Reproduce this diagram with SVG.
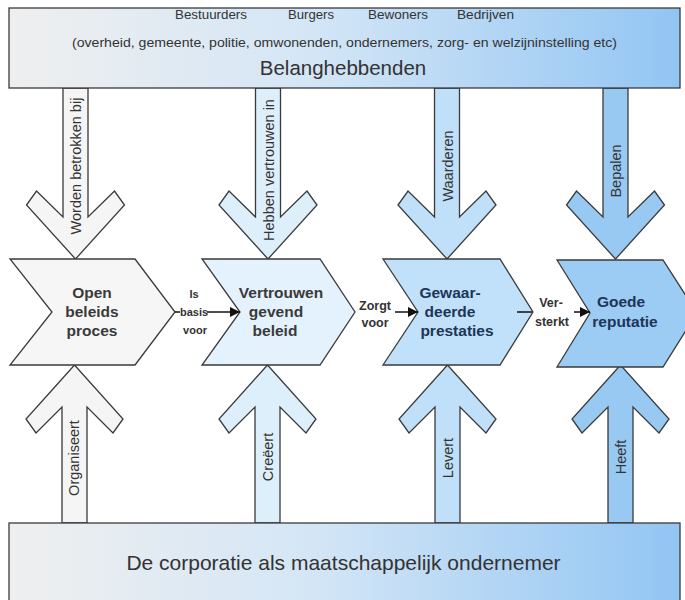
<svg xmlns="http://www.w3.org/2000/svg" width="685" height="600" viewBox="0 0 685 600">
<defs>
<linearGradient id="boxg" x1="0" y1="0" x2="1" y2="0">
<stop offset="0" stop-color="#efefef"/>
<stop offset="0.45" stop-color="#d4e6f6"/>
<stop offset="1" stop-color="#92c5f3"/>
</linearGradient>
<marker id="ah" viewBox="0 0 10 10" refX="10" refY="5" markerWidth="10" markerHeight="10" markerUnits="userSpaceOnUse" orient="auto">
<path d="M0,0 L10,5 L0,10 z" fill="#111"/>
</marker>
</defs>
<style>
.sh{stroke:#3a3a3a;stroke-width:1.3;stroke-linejoin:miter}
.c1{fill:#f6f6f6}.c2{fill:#e4f2fd}.c3{fill:#c0e1f9}.c4{fill:#9ccbf4}
.a1{fill:#f5f5f5}.a2{fill:#deeffc}.a3{fill:#bfe0f8}.a4{fill:#98c9f3}
.t{font-family:"Liberation Sans",Arial,sans-serif;fill:#333}
.vl{font-family:"Liberation Sans",Arial,sans-serif;fill:#333;font-size:14.5px;text-anchor:middle}
.ct{font-family:"Liberation Sans",Arial,sans-serif;font-weight:bold;font-size:15.5px;text-anchor:middle}
.lt{font-family:"Liberation Sans",Arial,sans-serif;font-weight:bold;font-size:12.5px;text-anchor:middle;fill:#333}
.ls{font-size:11px}
.cn{stroke:#111;stroke-width:1.5;fill:none}
</style>

<g id="arrows-down">
<g id="arrow-worden">
<polygon class="sh a1" points="63,88 88,88 88,217 114.5,191 124.5,205 75.5,259 26.5,205 36.5,191 63,217"/>
<text class="vl" transform="translate(80.5,166) rotate(-90)">Worden betrokken bij</text>
</g>
<g id="arrow-hebben">
<polygon class="sh a2" points="255.5,88 280.5,88 280.5,217 307,191 317,205 268,259 219,205 229,191 255.5,217"/>
<text class="vl" transform="translate(273.5,170) rotate(-90)">Hebben vertrouwen in</text>
</g>
<g id="arrow-waarderen">
<polygon class="sh a3" points="434.5,88 459.5,88 459.5,217 486,191 496,205 447,259 398,205 408,191 434.5,217"/>
<text class="vl" transform="translate(452.5,166) rotate(-90)">Waarderen</text>
</g>
<g id="arrow-bepalen">
<polygon class="sh a4" points="603,88 628,88 628,217 654.5,191 664.5,205 615.5,259 566.5,205 576.5,191 603,217"/>
<text class="vl" transform="translate(621,171) rotate(-90)">Bepalen</text>
</g>
</g>

<g id="arrows-up">
<g id="arrow-organiseert">
<polygon class="sh a1" points="62,523 62,407 36,433 26,419 74.5,365 123,419 113,433 87,407 87,523"/>
<text class="vl" transform="translate(79,458) rotate(-90)">Organiseert</text>
</g>
<g id="arrow-creeert">
<polygon class="sh a2" points="255,523 255,407 229,433 219,419 267.5,365 316,419 306,433 280,407 280,523"/>
<text class="vl" transform="translate(273,457) rotate(-90)">Creëert</text>
</g>
<g id="arrow-levert">
<polygon class="sh a3" points="435,523 435,407 409,433 399,419 447.5,365 496,419 486,433 460,407 460,523"/>
<text class="vl" transform="translate(453,458) rotate(-90)">Levert</text>
</g>
<g id="arrow-heeft">
<polygon class="sh a4" points="608,523 608,407 582,433 572,419 620.5,365 669,419 659,433 633,407 633,523"/>
<text class="vl" transform="translate(626,457) rotate(-90)">Heeft</text>
</g>
</g>

<g id="belanghebbenden">
<rect class="sh" x="9" y="8" width="671" height="80" fill="url(#boxg)"/>
<text class="t" font-size="12.5" x="175" y="19" textLength="72" lengthAdjust="spacingAndGlyphs">Bestuurders</text>
<text class="t" font-size="12.5" x="288" y="19" textLength="46" lengthAdjust="spacingAndGlyphs">Burgers</text>
<text class="t" font-size="12.5" x="368" y="19" textLength="60" lengthAdjust="spacingAndGlyphs">Bewoners</text>
<text class="t" font-size="12.5" x="457" y="19" textLength="57" lengthAdjust="spacingAndGlyphs">Bedrijven</text>
<text class="t" font-size="13.5" x="72" y="47" textLength="545" lengthAdjust="spacingAndGlyphs">(overheid, gemeente, politie, omwonenden, ondernemers, zorg- en welzijninstelling etc)</text>
<text class="t" font-size="20.5" x="343" y="75" text-anchor="middle">Belanghebbenden</text>
</g>

<g id="corporatie">
<rect class="sh" x="9" y="523" width="671" height="90" fill="url(#boxg)"/>
<text class="t" font-size="21" x="343.5" y="570" text-anchor="middle">De corporatie als maatschappelijk ondernemer</text>
</g>

<g id="open-beleidsproces">
<polygon class="sh c1" points="10,259 135,259 175,312 135,365 10,365 52,312"/>
<text class="ct" fill="#3a3a3a" x="92" y="298">Open</text>
<text class="ct" fill="#3a3a3a" x="92" y="317">beleids</text>
<text class="ct" fill="#3a3a3a" x="92" y="336">proces</text>
</g>
<g id="vertrouwengevend-beleid">
<polygon class="sh c2" points="202,259 320,259 355,312 320,365 202,365 240,312"/>
<text class="ct" fill="#3a3a3a" x="281" y="298">Vertrouwen</text>
<text class="ct" fill="#3a3a3a" x="276" y="317">gevend</text>
<text class="ct" fill="#3a3a3a" x="275" y="336">beleid</text>
</g>
<g id="gewaardeerde-prestaties">
<polygon class="sh c3" points="383,259 500,259 533,312 500,365 383,365 418,312"/>
<text class="ct" fill="#1d3557" x="450" y="298">Gewaar-</text>
<text class="ct" fill="#1d3557" x="450" y="317">deerde</text>
<text class="ct" fill="#1d3557" x="457" y="336">prestaties</text>
</g>
<g id="goede-reputatie">
<polygon class="sh c4" points="557,260 663,260 697,313 663,367 557,367 590,313"/>
<text class="ct" fill="#1d3557" x="621" y="307">Goede</text>
<text class="ct" fill="#1d3557" x="625" y="327">reputatie</text>
</g>

<g id="connectors">
<line class="cn" x1="175" y1="312" x2="180" y2="312"/>
<line class="cn" x1="207" y1="312" x2="240" y2="312" marker-end="url(#ah)"/>
<line class="cn" x1="395" y1="312" x2="418" y2="312" marker-end="url(#ah)"/>
<line class="cn" x1="517" y1="312" x2="532" y2="312"/>
<line class="cn" x1="574" y1="312" x2="590" y2="312" marker-end="url(#ah)"/>
<text class="lt ls" x="194" y="298">Is</text>
<text class="lt ls" x="194" y="316">basis</text>
<text class="lt ls" x="195" y="334">voor</text>
<text class="lt" x="375" y="310">Zorgt</text>
<text class="lt" x="375" y="327">voor</text>
<text class="lt" x="551" y="307">Ver-</text>
<text class="lt" x="552" y="326">sterkt</text>
</g>
</svg>
